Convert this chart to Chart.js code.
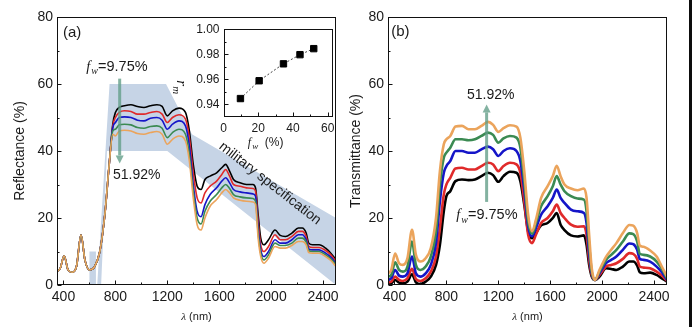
<!DOCTYPE html>
<html>
<head>
<meta charset="utf-8">
<script src="https://cdn.jsdelivr.net/npm/chart.js@4.4.1/dist/chart.umd.min.js"></script>
<style>
  body { margin: 0; background: #fff; }
  #page { position: relative; width: 692px; height: 327px; overflow: hidden; background: #fff; }
  canvas { position: absolute; }
  #edge { position: absolute; left: 689px; top: 0; width: 3px; height: 327px; background: #0d0d0d; }
</style>
</head>
<body>
<div id="page">
  <canvas id="reflChart" width="346" height="327" style="left:0;top:0"></canvas>
  <canvas id="transChart" width="346" height="327" style="left:346px;top:0"></canvas>
  <canvas id="insetChart" width="170" height="135" style="left:170px;top:18px"></canvas>
  <div id="edge"></div>
</div>
<script>
// wavelength grid (nm) shared by every curve
const wavelengths = [350, 375, 405, 435, 465, 500, 535, 565, 600, 640, 680, 720, 750, 780, 800, 830, 870, 920, 970, 1020,
  1070, 1120, 1160, 1200, 1240, 1290, 1340, 1370, 1400, 1430, 1460, 1490, 1530, 1580, 1620, 1650, 1680, 1710, 1760, 1810,
  1860, 1880, 1900, 1920, 1945, 1980, 2030, 2070, 2110, 2160, 2210, 2240, 2270, 2290, 2320, 2370, 2420, 2460, 2500];

// (a) reflectance, fw = 9.75% ... 51.92%
const reflBlack = [4, 5, 8.7, 4.5, 3.8, 5.5, 15, 7.5, 4.5, 5.5, 10, 21.5, 35, 48, 51.5, 53, 53.5, 53.8, 53.3, 53,
  53.5, 53.8, 53.3, 50.5, 52, 52.8, 51.5, 46, 36, 29.5, 28.5, 31.5, 32.5, 33.5, 35, 36, 34, 31.5, 30.5, 30,
  30, 29, 21, 14, 12, 13.5, 16.4, 14.8, 14.5, 15.5, 17, 17, 15.5, 12.5, 12, 12, 11, 9.5, 7.5];
const reflRed = [4, 5, 8.7, 4.5, 3.8, 5.5, 15, 7.5, 4.5, 5.5, 10, 21.5, 35, 47.5, 50, 51.5, 52, 51.8, 51, 51,
  51.5, 51.8, 51, 48.5, 50, 50.8, 49.5, 44, 33.5, 26, 24.5, 27.5, 29.5, 31, 33, 34.5, 32.5, 30, 29.5, 29,
  28.8, 28, 19, 12, 10, 11.5, 15, 13.5, 13.5, 14.5, 16, 16, 14.5, 11.5, 11.2, 11.2, 10.3, 9, 7];
const reflBlue = [4, 5, 8.7, 4.5, 3.8, 5.5, 15, 7.5, 4.5, 5.5, 10, 21.5, 35, 47, 48.5, 50, 50.2, 50, 49.2, 49,
  49.8, 50, 49.2, 46.5, 48, 49, 47.5, 41.5, 30, 22, 20.4, 24, 27, 29, 31, 32, 30.5, 28.5, 27.8, 27.5,
  27.2, 26.5, 17, 10.5, 8.5, 10, 13.5, 12.5, 12.5, 13.5, 15, 15, 13.5, 10.8, 10.5, 10.5, 9.5, 8.3, 6.5];
const reflGreen = [4, 5, 8.7, 4.5, 3.8, 5.5, 15, 7.5, 4.5, 5.5, 10, 21.5, 35, 46, 46.5, 47.8, 48, 47.8, 47, 46.8,
  47.3, 47.5, 46.8, 44, 45.5, 46.5, 45, 39, 28, 20, 18.2, 22, 25, 27, 29, 30, 28.8, 27, 26.3, 26,
  25.8, 25, 15.5, 9.5, 7.5, 9, 12.5, 11.8, 11.8, 12.5, 14, 14, 12.8, 10.2, 10, 10, 9, 7.8, 6];
const reflOrange = [4, 5, 8.7, 4.5, 3.8, 5.5, 15, 7.5, 4.5, 5.5, 10, 21.5, 35, 45, 44.5, 46, 46.2, 46, 45.2, 45,
  45.5, 45.8, 45, 42, 43.5, 44.5, 43, 37, 26, 18, 16.4, 20, 23.5, 25.5, 27.5, 28.5, 27.5, 26, 25.3, 25,
  24.8, 24, 14, 8.5, 6.5, 8, 11.5, 11, 11, 11.8, 13, 13, 12, 9.7, 9.5, 9.5, 8.5, 7.3, 5.5];

// (b) transmittance
const transBlack = [0.3, 0.5, 1.5, 0.7, 0.5, 1, 3.2, 0.8, 0.3, 1, 2.5, 6, 12, 22, 26.5, 28, 31, 31.5, 31.3, 31.5,
  32.5, 33.5, 32.8, 30.8, 32.5, 33.8, 33.5, 31, 24, 16, 14, 15.5, 17.8, 18.5, 20, 21.5, 18, 16.4, 14.8, 14.5,
  14.8, 12, 6, 2.5, 1.5, 2.5, 5, 4.8, 4.5, 5.5, 7, 7, 5.8, 3.8, 3.5, 3.7, 3, 2, 1];
const transRed = [0.8, 1, 2.5, 1.5, 1.2, 2, 4.8, 1.8, 1.2, 2, 4, 8.5, 17, 27, 30, 32, 34.8, 35, 34.5, 34.5,
  35.5, 36.5, 36, 34, 35.5, 36.5, 36, 33.5, 25, 15, 12.5, 15, 18.5, 20, 22, 24, 21.5, 20, 18, 17.4,
  17.5, 15, 7.5, 3, 1.5, 3, 5.5, 6, 6.5, 7.8, 9.5, 9.3, 7.8, 5.5, 5.2, 5, 4, 2.8, 1.2];
const transBlue = [1.5, 2, 4.5, 2.8, 2.5, 3.5, 8.5, 3.5, 2.5, 3.5, 6, 12.5, 25, 33.5, 35.5, 37, 40, 40, 39.5, 39.5,
  40.5, 41.3, 40.5, 38.5, 40, 40.8, 40, 37, 28.5, 17.5, 14.5, 17, 21, 23.5, 26, 28.5, 26, 24.5, 22.5, 22,
  21.5, 18.5, 9.5, 3.5, 1.5, 3.5, 6.5, 7.5, 8.5, 10.5, 12.4, 12.2, 10.5, 7.8, 7.5, 7, 5.5, 3.8, 1.5];
const transGreen = [2.5, 3, 6.8, 4.5, 4, 5.5, 13, 6, 4.5, 5.5, 8.5, 16, 30, 38, 39.5, 41, 43.5, 43.5, 43.2, 43.5,
  44.5, 45.5, 44.8, 42.5, 43.8, 44.5, 44, 41, 31, 19, 15.3, 18.5, 23.5, 26.5, 29.5, 32.5, 30, 28, 26.5, 25.8,
  25.5, 22, 12, 4, 1.5, 4, 7.5, 9, 10.5, 13, 15.4, 15.2, 13, 9.3, 9, 8.5, 7, 4.8, 2];
const transOrange = [3.5, 4.5, 9.4, 6.5, 6, 8, 16.5, 9, 7, 8, 11, 20, 34, 42, 43.5, 44.5, 47.3, 47.5, 46.5, 46.5,
  47.5, 48.7, 47.8, 45.7, 46.8, 47.7, 47.3, 44, 34, 21, 16, 19.5, 26, 29.5, 32.5, 35.6, 32.5, 30, 28.8, 28.3,
  28.8, 26, 15, 5, 1.5, 4.5, 8.4, 10.5, 12.5, 15.5, 17.9, 17.7, 15.5, 11.8, 11.4, 10.3, 8.5, 5.5, 2.5];

// military specification band (nm, %)
const specX = [660, 755, 1190, 1390, 2500, 2500, 1200, 800, 735, 690];
const specY = [0, 60, 60, 45, 20, 0, 40, 40, 40, 0];
const specRectX = [600, 600, 650, 650];
const specRectY = [0, 10, 10, 0];

// inset: r_m against f_w
const fwPercent = [9.75, 20.5, 34.5, 44, 51.92];
const rmValues = [0.9447, 0.9589, 0.9724, 0.9797, 0.9845];

const xTickValues = [400, 800, 1200, 1600, 2000, 2400];
const xMinorTicks = [600, 1000, 1400, 1800, 2200];
const yTickValues = [0, 20, 40, 60, 80];
const yMinorTicks = [10, 30, 50, 70];
const insetXTicks = [0, 20, 40, 60];
const insetXMinor = [10, 30, 50];
const insetYTicks = [0.94, 0.96, 0.98, 1.00];
const insetYMinor = [0.95, 0.97, 0.99];

const seriesColors = ['#000000', '#e02a2a', '#1515c8', '#3b8a52', '#eba45c'];
const ink = '#1a1a1a';
const arrowColor = 'rgba(96,156,134,0.78)';

Chart.defaults.font.family = '"Liberation Sans", Arial, sans-serif';
Chart.defaults.color = ink;

function lineDatasets(series, width) {
  return series.map((values, i) => ({
    data: wavelengths.map((w, k) => ({ x: w, y: values[k] })),
    borderColor: seriesColors[i],
    borderWidth: width,
    pointRadius: 0,
    cubicInterpolationMode: 'monotone',
    fill: false,
    order: series.length - i
  }));
}

function drawArrow(ctx, x, yFrom, yTo) {
  const dir = yTo > yFrom ? 1 : -1;
  const head = 8;
  ctx.save();
  ctx.strokeStyle = arrowColor;
  ctx.fillStyle = arrowColor;
  ctx.lineWidth = 3;
  ctx.beginPath();
  ctx.moveTo(x, yFrom);
  ctx.lineTo(x, yTo - dir * head);
  ctx.stroke();
  ctx.beginPath();
  ctx.moveTo(x - 4, yTo - dir * head);
  ctx.lineTo(x + 4, yTo - dir * head);
  ctx.lineTo(x, yTo);
  ctx.closePath();
  ctx.fill();
  ctx.restore();
}

// italic f with subscript w, then plain text
function drawFw(ctx, left, base, size, tail) {
  ctx.save();
  ctx.textAlign = 'left';
  ctx.textBaseline = 'alphabetic';
  ctx.fillStyle = ink;
  ctx.font = `italic ${size}px "Liberation Serif"`;
  ctx.fillText('f', left, base);
  let cx = left + ctx.measureText('f').width + 1;
  ctx.font = `italic ${Math.round(size * 0.72)}px "Liberation Serif"`;
  ctx.fillText('w', cx, base + size * 0.22);
  cx += ctx.measureText('w').width;
  ctx.font = `${size}px "Liberation Sans"`;
  ctx.fillText(tail, cx, base);
  ctx.restore();
}

function drawText(ctx, text, x, y, size, align) {
  ctx.save();
  ctx.fillStyle = ink;
  ctx.font = `${size}px "Liberation Sans"`;
  ctx.textAlign = align || 'left';
  ctx.textBaseline = 'alphabetic';
  ctx.fillText(text, x, y);
  ctx.restore();
}

function drawLambdaTitle(chart) {
  const { ctx, chartArea: a } = chart;
  ctx.save();
  ctx.fillStyle = ink;
  ctx.textBaseline = 'alphabetic';
  ctx.font = 'italic 11px "Liberation Serif"';
  const w1 = ctx.measureText('λ').width;
  ctx.font = '11px "Liberation Sans"';
  const w2 = ctx.measureText(' (nm)').width;
  const x0 = (a.left + a.right) / 2 - (w1 + w2) / 2;
  const base = a.bottom + 35;
  ctx.font = 'italic 11px "Liberation Serif"';
  ctx.fillText('λ', x0, base);
  ctx.font = '11px "Liberation Sans"';
  ctx.fillText(' (nm)', x0 + w1, base);
  ctx.restore();
}

// closed box with inward tick marks
function framePlugin(t) {
  return {
    id: 'frame',
    afterDatasetsDraw(chart) {
      const { ctx, chartArea: a, scales: { x, y } } = chart;
      const l = Math.round(a.left) + 0.5, r = Math.round(a.right) - 0.5;
      const tp = Math.round(a.top) + 0.5, b = Math.round(a.bottom) - 0.5;
      ctx.save();
      ctx.strokeStyle = '#111';
      ctx.lineWidth = 1;
      ctx.strokeRect(l, tp, r - l, b - tp);
      ctx.beginPath();
      const xt = (vals, len) => vals.forEach(v => {
        const p = Math.round(x.getPixelForValue(v)) + 0.5;
        ctx.moveTo(p, b); ctx.lineTo(p, b - len);
      });
      const yt = (vals, len) => vals.forEach(v => {
        const p = Math.round(y.getPixelForValue(v)) + 0.5;
        ctx.moveTo(l, p); ctx.lineTo(l + len, p);
      });
      xt(t.xMajor, t.major); xt(t.xMinor, t.minor);
      yt(t.yMajor, t.major); yt(t.yMinor, t.minor);
      ctx.stroke();
      ctx.restore();
    }
  };
}

const specShade = {
  id: 'specShade',
  beforeDatasetsDraw(chart) {
    const { ctx, chartArea: a, scales: { x, y } } = chart;
    ctx.save();
    ctx.beginPath();
    ctx.rect(a.left, a.top, a.width, a.height);
    ctx.clip();
    ctx.fillStyle = '#c6d4e6';
    [[specX, specY], [specRectX, specRectY]].forEach(([xs, ys]) => {
      ctx.beginPath();
      xs.forEach((v, i) => {
        const px = x.getPixelForValue(v), py = y.getPixelForValue(ys[i]);
        if (i === 0) ctx.moveTo(px, py); else ctx.lineTo(px, py);
      });
      ctx.closePath();
      ctx.fill();
    });
    ctx.restore();
  }
};

const reflNotes = {
  id: 'reflNotes',
  afterDatasetsDraw(chart) {
    const { ctx, scales: { x, y } } = chart;
    drawText(ctx, '(a)', x.getPixelForValue(396), y.getPixelForValue(73.9), 15);
    drawFw(ctx, x.getPixelForValue(576), y.getPixelForValue(63.9), 14.5, '=9.75%');
    drawArrow(ctx, x.getPixelForValue(833), y.getPixelForValue(61.6), y.getPixelForValue(36.3));
    drawText(ctx, '51.92%', x.getPixelForValue(781), y.getPixelForValue(31.5), 14);
    ctx.save();
    ctx.translate(x.getPixelForValue(1991), y.getPixelForValue(30.3));
    ctx.rotate(38 * Math.PI / 180);
    ctx.fillStyle = ink;
    ctx.font = '14px "Liberation Sans"';
    ctx.textAlign = 'center';
    ctx.textBaseline = 'middle';
    ctx.fillText('military specification', 0, 0);
    ctx.restore();
    drawLambdaTitle(chart);
  }
};

const transNotes = {
  id: 'transNotes',
  afterDatasetsDraw(chart) {
    const { ctx, scales: { x, y } } = chart;
    drawText(ctx, '(b)', x.getPixelForValue(375), y.getPixelForValue(74.2), 15);
    drawArrow(ctx, x.getPixelForValue(1110), y.getPixelForValue(24.8), y.getPixelForValue(53.9));
    drawText(ctx, '51.92%', x.getPixelForValue(959), y.getPixelForValue(55.5), 14);
    drawFw(ctx, x.getPixelForValue(876), y.getPixelForValue(19.6), 14.5, '=9.75%');
    drawLambdaTitle(chart);
  }
};

const mainTicks = { xMajor: xTickValues, xMinor: xMinorTicks, yMajor: yTickValues, yMinor: yMinorTicks, major: 4, minor: 2 };

function spectrumChart(canvasId, yTitle, series, lineWidth, yWidth, titlePad, rightPad, plugins) {
  return new Chart(document.getElementById(canvasId), {
    type: 'line',
    data: { datasets: lineDatasets(series, lineWidth) },
    options: {
      responsive: false,
      devicePixelRatio: 1,
      animation: false,
      layout: { padding: { top: 17, right: rightPad, left: 0, bottom: 0 } },
      plugins: { legend: { display: false }, tooltip: { enabled: false } },
      scales: {
        x: {
          type: 'linear', min: 350, max: 2500,
          afterBuildTicks: s => { s.ticks = xTickValues.map(v => ({ value: v })); },
          afterFit: s => { s.height = 42; },
          grid: { display: false, drawTicks: false },
          border: { display: false },
          ticks: { font: { size: 14 }, padding: 4, maxRotation: 0, autoSkip: false, color: ink, callback: v => String(v) }
        },
        y: {
          type: 'linear', min: 0, max: 80,
          afterBuildTicks: s => { s.ticks = yTickValues.map(v => ({ value: v })); },
          afterFit: s => { s.width = yWidth; },
          grid: { display: false, drawTicks: false },
          border: { display: false },
          ticks: { font: { size: 14 }, padding: 4, color: ink, callback: v => String(v) },
          title: { display: true, text: yTitle, font: { size: 14 }, color: ink, padding: { top: titlePad, bottom: 0 } }
        }
      }
    },
    plugins: plugins
  });
}

spectrumChart('reflChart', 'Reflectance (%)', [reflBlack, reflRed, reflBlue, reflGreen, reflOrange],
  1.6, 57, 11.5, 10, [specShade, framePlugin(mainTicks), reflNotes]);

spectrumChart('transChart', 'Transmittance (%)', [transBlack, transRed, transBlue, transGreen, transOrange],
  2.6, 42, 1.5, 25, [framePlugin(mainTicks), transNotes]);

// inset chart
const insetBack = {
  id: 'insetBack',
  beforeDraw(chart) {
    const { ctx, chartArea: a } = chart;
    ctx.save();
    ctx.fillStyle = '#fff';
    ctx.fillRect(a.left, a.top, a.width, a.height);
    ctx.restore();
  },
  afterDraw(chart) {
    const { ctx, chartArea: a, scales: { x, y } } = chart;
    drawFw(ctx, x.getPixelForValue(14), a.bottom + 29, 12, '  (%)');
    ctx.save();
    ctx.translate(11, y.getPixelForValue(0.953));
    ctx.rotate(Math.PI / 2);
    ctx.fillStyle = ink;
    ctx.textBaseline = 'alphabetic';
    ctx.font = 'italic 15px "Liberation Serif"';
    ctx.fillText('r', -8, 4);
    ctx.font = 'italic 11px "Liberation Serif"';
    ctx.fillText('m', -2, 8);
    ctx.restore();
  }
};

new Chart(document.getElementById('insetChart'), {
  type: 'scatter',
  data: {
    datasets: [{
      data: fwPercent.map((f, i) => ({ x: f, y: rmValues[i] })),
      showLine: true,
      borderColor: '#444',
      borderWidth: 1,
      borderDash: [2, 2],
      pointStyle: 'rect',
      pointRadius: 4.5,
      pointBackgroundColor: '#000',
      pointBorderColor: '#000'
    }]
  },
  options: {
    responsive: false,
    devicePixelRatio: 1,
    animation: false,
    layout: { padding: { top: 10, right: 7, left: 0, bottom: 0 } },
    plugins: { legend: { display: false }, tooltip: { enabled: false } },
    scales: {
      x: {
        type: 'linear', min: 0, max: 63,
        afterBuildTicks: s => { s.ticks = insetXTicks.map(v => ({ value: v })); },
        afterFit: s => { s.height = 36; },
        grid: { display: false, drawTicks: false },
        border: { display: false },
        ticks: { font: { size: 12 }, padding: 4, maxRotation: 0, autoSkip: false, color: ink, callback: v => String(v) }
      },
      y: {
        type: 'linear', min: 0.93, max: 1.0,
        afterBuildTicks: s => { s.ticks = insetYTicks.map(v => ({ value: v })); },
        afterFit: s => { s.width = 53.5; },
        grid: { display: false, drawTicks: false },
        border: { display: false },
        ticks: { font: { size: 12 }, padding: 4, color: ink, callback: v => Number(v).toFixed(2) }
      }
    }
  },
  plugins: [insetBack, framePlugin({ xMajor: insetXTicks, xMinor: insetXMinor, yMajor: insetYTicks, yMinor: insetYMinor, major: 4, minor: 2 })]
});
</script>
</body>
</html>
